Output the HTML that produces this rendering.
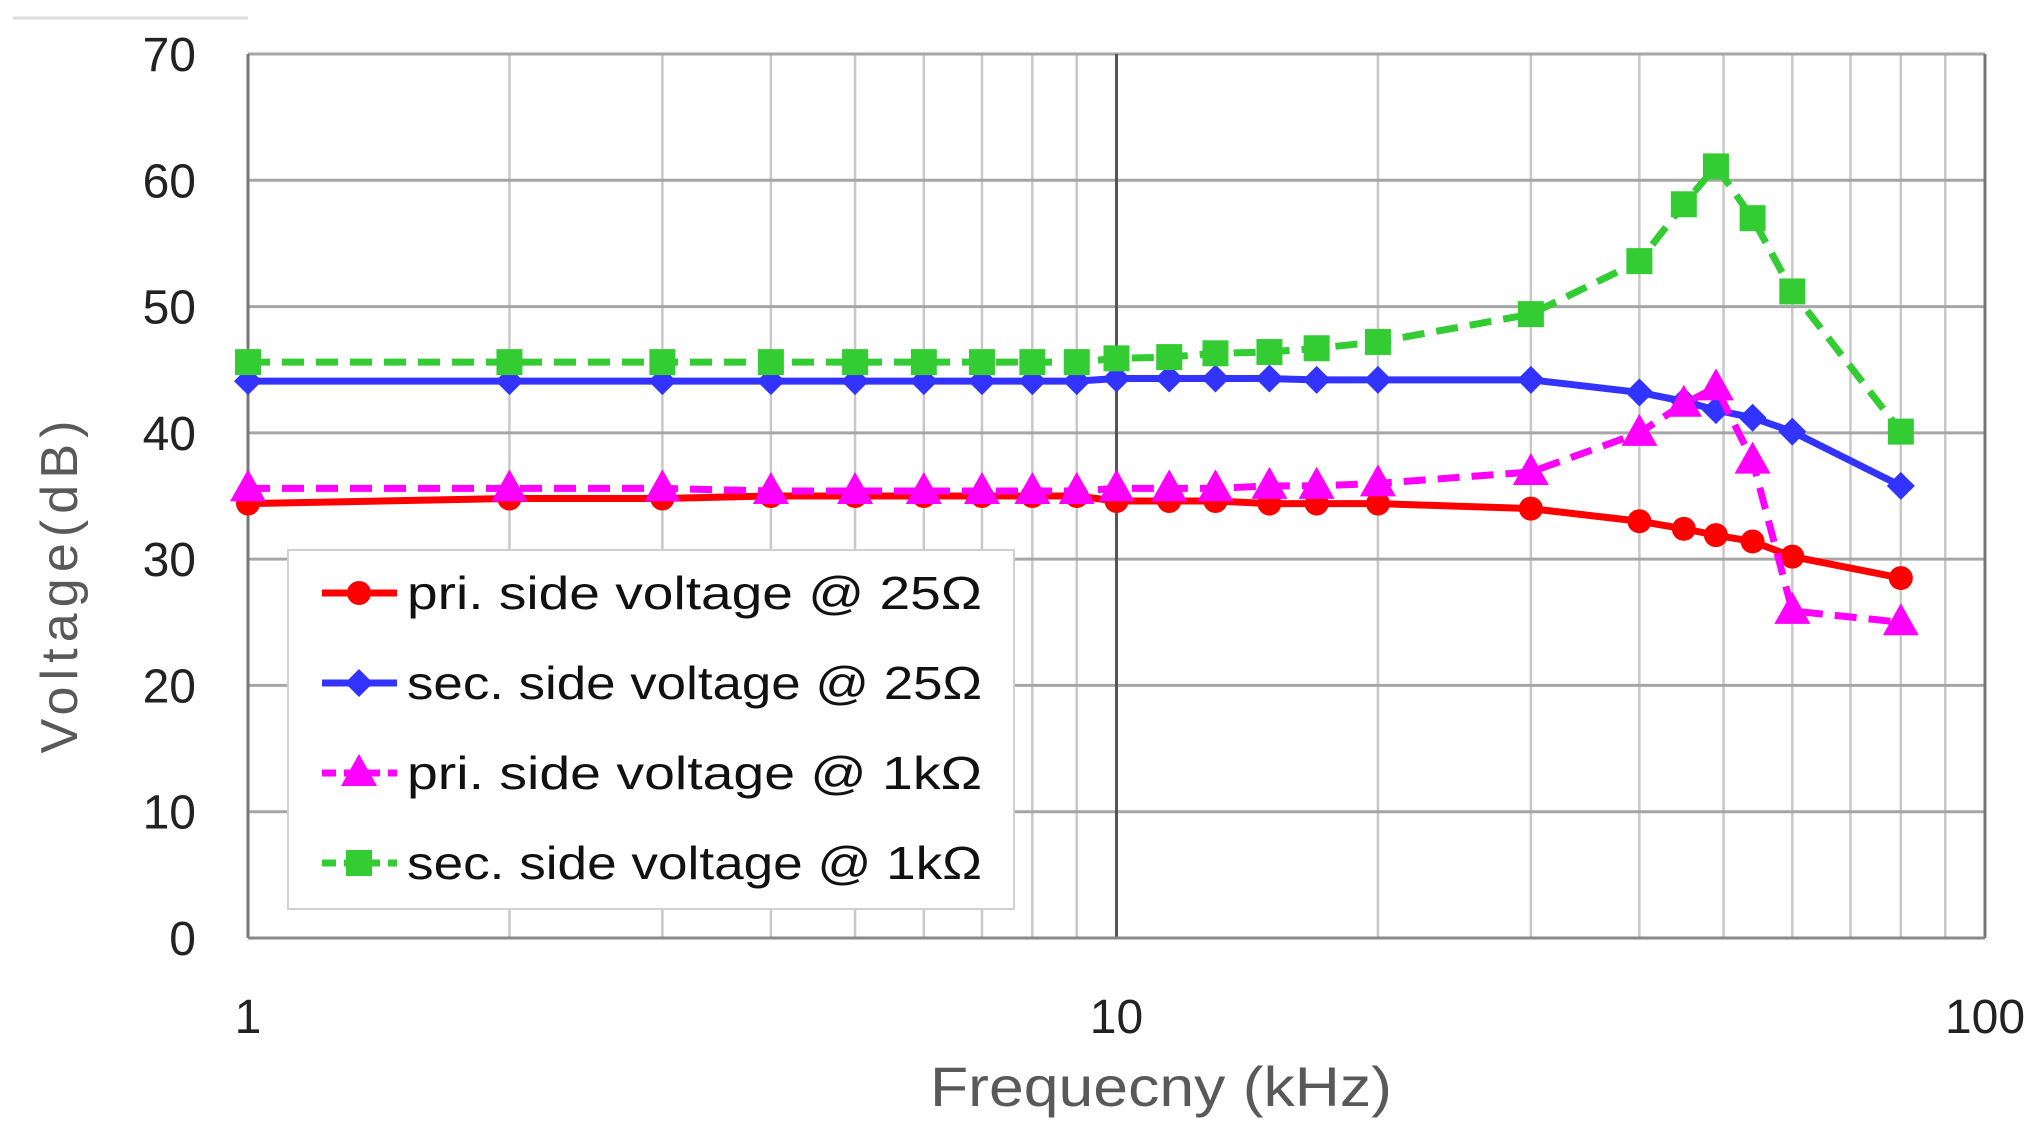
<!DOCTYPE html>
<html><head><meta charset="utf-8"><style>
html,body{margin:0;padding:0;background:#fff;}
svg{display:block;font-family:"Liberation Sans",sans-serif;}
</style></head><body>
<svg id="chart" width="2035" height="1130" viewBox="0 0 2035 1130" xmlns="http://www.w3.org/2000/svg">
<line x1="13" y1="18" x2="248" y2="18" stroke="#ddd" stroke-width="3"/>
<g id="grid"></g>
<g id="axes"></g>
<g id="series"></g>
<g id="legend"></g>
<text x="1161" y="1106" text-anchor="middle" font-size="56" fill="#595959" textLength="462" lengthAdjust="spacingAndGlyphs">Frequecny (kHz)</text>
<text transform="translate(77,587) rotate(-90)" text-anchor="middle" font-size="52" fill="#595959" textLength="333">Voltage(dB)</text>
</svg>
<script>
const freqs = [1,2,3,4,5,6,7,8,9,10,11.5,13,15,17,20,30,40,45,49,54,60,80];
const priLow = [34.4,34.8,34.8,35.0,35.0,35.0,35.0,35.0,35.0,34.6,34.6,34.6,34.4,34.4,34.4,34.0,33.0,32.4,31.9,31.4,30.2,28.5];
const secLow = [44.1,44.1,44.1,44.1,44.1,44.1,44.1,44.1,44.1,44.3,44.3,44.3,44.3,44.2,44.2,44.2,43.2,42.5,41.8,41.2,40.1,35.8];
const priHigh = [35.6,35.6,35.6,35.4,35.4,35.4,35.4,35.4,35.4,35.6,35.6,35.6,35.8,35.8,36.0,36.9,40.0,42.3,43.6,37.8,25.9,25.0];
const secHigh = [45.6,45.6,45.6,45.6,45.6,45.6,45.6,45.6,45.6,45.9,46.0,46.3,46.4,46.7,47.2,49.4,53.6,58.1,61.1,57.0,51.2,40.1];
const yTicks = [0,10,20,30,40,50,60,70];
const xTickLabels = [1,10,100];
const legendLabels = ["pri.  side voltage @ 25\u03A9","sec. side voltage @ 25\u03A9","pri.  side voltage @ 1k\u03A9","sec. side voltage @ 1k\u03A9"];

const NS="http://www.w3.org/2000/svg";
const X0=248, X1=1985, Y0=938, Y1=54;
const xs = f => X0 + (X1-X0)*Math.log10(f)/2;
const ys = v => Y0 - (Y0-Y1)*v/70;
function mk(tag, attrs, parent){const e=document.createElementNS(NS,tag);for(const k in attrs)e.setAttribute(k,attrs[k]);parent.appendChild(e);return e;}
const grid=document.getElementById('grid'), axes=document.getElementById('axes'), ser=document.getElementById('series'), leg=document.getElementById('legend');

for(let d=0; d<2; d++) for(let m=2; m<=9; m++){
  const x=xs(m*Math.pow(10,d));
  const l=mk('line',{x1:x,x2:x,y1:Y1,y2:Y0,stroke:'#c8c8c8','stroke-width':2.5},grid);
  
  
}
for(const t of yTicks){
  const y=ys(t);
  const l=mk('line',{x1:X0,x2:X1,y1:y,y2:y,stroke:'#a6a6a6','stroke-width':3},grid);
  
  
  const tx=mk('text',{x:196,y:y+17,'text-anchor':'end','font-size':48,fill:'#222'},axes);
  tx.textContent=t;
  
  
}
for(const t of xTickLabels){
  const x=xs(t);
  const l=mk('line',{x1:x,x2:x,y1:Y1,y2:Y0,stroke: t==10?'#555':'#777','stroke-width':3},grid);
  
  
  const tx=mk('text',{x:x,y:1033,'text-anchor':'middle','font-size':48,fill:'#222'},axes);
  tx.textContent=t;
  
  
}
const ax=mk('line',{x1:X0,x2:X1,y1:Y0,y2:Y0,stroke:'#888','stroke-width':3},axes);



function marker(kind,x,y,color,g){
  let e;
  if(kind==='circle') e=mk('circle',{cx:x,cy:y,r:12,fill:color},g);
  else if(kind==='diamond') e=mk('polygon',{points:`${x},${y-14} ${x+14},${y} ${x},${y+14} ${x-14},${y}`,fill:color},g);
  else if(kind==='tri') e=mk('polygon',{points:`${x},${y-19} ${x+18},${y+13} ${x-18},${y+13}`,fill:color},g);
  else e=mk('rect',{x:x-13,y:y-13,width:26,height:26,fill:color},g);
  return e;
}
const specs=[
  {vals:priLow,color:'#ff0000',dash:'',m:'circle',name:'pri-25ohm'},
  {vals:secLow,color:'#3333ff',dash:'',m:'diamond',name:'sec-25ohm'},
  {vals:priHigh,color:'#ff00ff',dash:'22 12',m:'tri',name:'pri-1kohm'},
  {vals:secHigh,color:'#33cc33',dash:'22 12',m:'square',name:'sec-1kohm'}
];
specs.forEach((s,i)=>{
  const g=mk('g',{},ser);
  
  
  const pts=freqs.map((f,j)=>xs(f)+','+ys(s.vals[j])).join(' ');
  const pl=mk('polyline',{points:pts,fill:'none',stroke:s.color,'stroke-width':7,'stroke-dasharray':s.dash,'stroke-linejoin':'round'},g);
  
  
  freqs.forEach((f,j)=>{
    const mm=marker(s.m,xs(f),ys(s.vals[j]),s.color,g);
    
    
  });
  const ly=[593,683,773,863][i];
  const ll=mk('line',{x1:322,x2:397,y1:ly,y2:ly,stroke:s.color,'stroke-width':7,'stroke-dasharray':s.dash?'14 8':''},leg);
  
  
  const lm=marker(s.m,359,ly,s.color,leg);
  
  
  const lt=mk('text',{x:407,y:ly+16,'font-size':46,fill:'#111',textLength:575,lengthAdjust:'spacingAndGlyphs'},leg);
  lt.textContent=legendLabels[i];
  
  
});
const box=mk('rect',{x:288,y:550,width:726,height:359,fill:'#fff',stroke:'#d0d0d0','stroke-width':2},leg);


leg.insertBefore(box,leg.firstChild);
</script>
</body></html>
